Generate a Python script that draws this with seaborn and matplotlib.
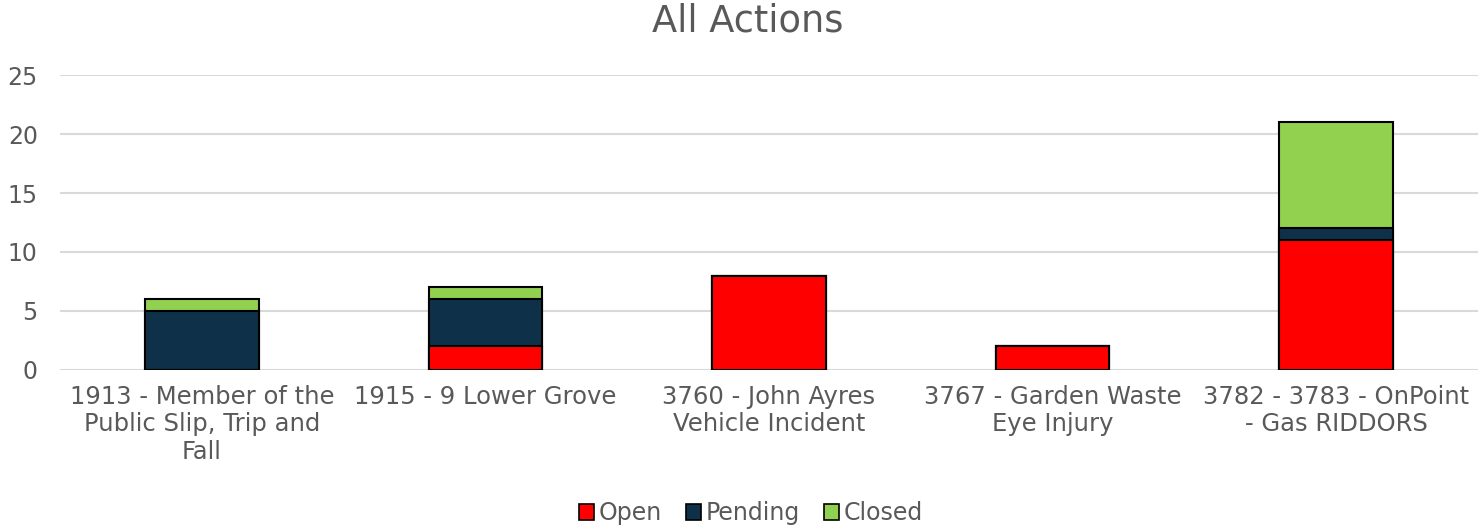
import matplotlib
matplotlib.use("Agg")
import matplotlib.pyplot as plt
from matplotlib.patches import Patch
import seaborn as sns
import pandas as pd
import numpy as np

# Data
categories = [
    "1913 - Member of the\nPublic Slip, Trip and\nFall",
    "1915 - 9 Lower Grove",
    "3760 - John Ayres\nVehicle Incident",
    "3767 - Garden Waste\nEye Injury",
    "3782 - 3783 - OnPoint\n- Gas RIDDORS",
]
open_vals = [0, 2, 8, 2, 11]
pending_vals = [5, 4, 0, 0, 1]
closed_vals = [1, 1, 0, 0, 9]

series = ["Open", "Pending", "Closed"]
colors = {"Open": "#ff0000", "Pending": "#0e3149", "Closed": "#92d050"}
text_color = "#595959"

sns.set_theme(style="white")
plt.rcParams["font.family"] = ["DejaVu Sans"]

fig = plt.figure(figsize=(14.78, 5.29), dpi=100)
ax = fig.add_axes([0.0406, 0.3006, 0.9594, 0.5576])

# cumulative stacks, drawn tallest first so lower segments sit on top
o = np.array(open_vals)
p = np.array(pending_vals)
c = np.array(closed_vals)
stacks = {"Closed": o + p + c, "Pending": o + p, "Open": o}

for name in ["Closed", "Pending", "Open"]:
    df = pd.DataFrame({"cat": categories, "val": stacks[name]})
    sns.barplot(data=df, x="cat", y="val", order=categories, color=colors[name],
                saturation=1, width=0.4, edgecolor="black", linewidth=1.5, ax=ax,
                zorder=3)

ax.set_ylim(0, 25)
ax.set_yticks([0, 5, 10, 15, 20, 25])
ax.set_xlim(-0.5, len(categories) - 0.5)
ax.yaxis.grid(True, color="#d9d9d9", linewidth=1.5, zorder=0)
ax.set_axisbelow(True)
for s in ax.spines.values():
    s.set_visible(False)
ax.set_xlabel("")
ax.set_ylabel("")
ax.tick_params(axis="y", length=0, pad=16, labelsize=17, labelcolor=text_color)
ax.tick_params(axis="x", length=0, pad=11, labelsize=17.5, labelcolor=text_color)
for lbl in ax.get_xticklabels():
    lbl.set_linespacing(1.17)

fig.text(748 / 1478, 1 - 21 / 529, "All Actions", ha="center", va="center",
         fontsize=26.5, color=text_color)

handles = [Patch(facecolor=colors[s], edgecolor="black", linewidth=1.2, label=s)
           for s in series]
leg = fig.legend(handles=handles, loc="center",
                 bbox_to_anchor=(751 / 1478, 1 - 513 / 529),
                 ncol=3, frameon=False, fontsize=17, handlelength=0.65,
                 handleheight=0.65, handletextpad=0.2, columnspacing=1.0)
for t in leg.get_texts():
    t.set_color(text_color)

fig.savefig("out.png", dpi=100)
